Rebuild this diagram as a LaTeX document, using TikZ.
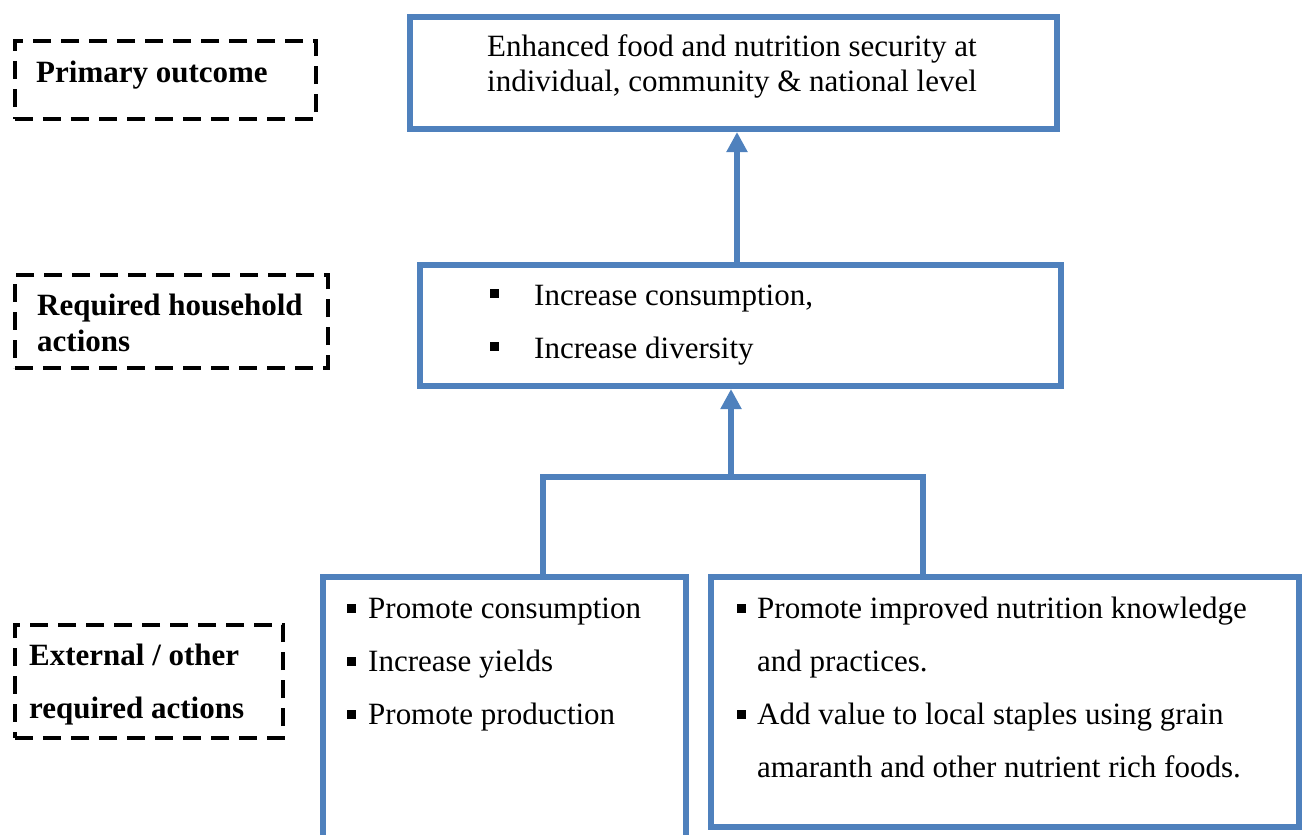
\documentclass[tikz,border=0pt]{standalone}
\usepackage{fontspec}
\setmainfont{Liberation Serif}
\usetikzlibrary{arrows.meta}
\definecolor{accblue}{RGB}{79,129,189}
\newcommand\sqbul[1][0.22em]{\rule[#1]{0.29em}{0.29em}}
\begin{document}
\begin{tikzpicture}[x=1bp,y=-1bp,
  bluebox/.style={draw=accblue, line width=6bp, rectangle, inner sep=0pt, outer sep=3bp},
  openbox/.style={rectangle, inner sep=0pt, outer sep=0pt},
  blueline/.style={draw=accblue, line width=6bp, line join=miter},
  arr/.style={blueline, -{Triangle[width=20bp,length=20bp]}},
  dbox/.style={draw=black, line width=4bp, dash pattern=on 18bp off 10bp, rectangle, inner sep=0pt},
  txt/.style={anchor=base west, inner sep=0pt, font=\fontsize{31.1}{37}\selectfont},
  lbl/.style={txt, font=\fontsize{31.1}{37}\selectfont\bfseries}
]
\useasboundingbox (0,0) rectangle (1305,834);

% dashed labels
\node[dbox, minimum width=301bp, minimum height=78bp] (d1) at (165.5,80) {};
\node[dbox, minimum width=313bp, minimum height=93bp] (d2) at (171.5,321.5) {};
\node[dbox, minimum width=268bp, minimum height=113bp] (d3) at (149,681.5) {};
\node[lbl] (t1) at (36,82) {Primary outcome};
\node[lbl] (t2a) at (37,315) {Required household};
\node[lbl] (t2b) at (37,351) {actions};
\node[lbl] (t3a) at (29,665) {External / other};
\node[lbl] (t3b) at (29,718) {required actions};

% blue boxes
\node[bluebox, minimum width=647bp, minimum height=112bp] (top) at (733.5,73) {};
\node[bluebox, minimum width=641bp, minimum height=121bp] (mid) at (740.5,325.5) {};
\node[openbox, minimum width=363bp, minimum height=270bp] (lb) at (504.5,712) {};
\draw[blueline] (lb.south west) -- (lb.north west) -- (lb.north east) -- (lb.south east);
\node[bluebox, minimum width=588bp, minimum height=250bp] (rb) at (1005,702) {};

% texts
\node[txt] (e1) at (487,56) {Enhanced food and nutrition security at};
\node[txt] (e2) at (487,91) {individual, community \& national level};
\node[txt] (m1) at (534,305) {\llap{\sqbul\hspace{35bp}}Increase consumption,};
\node[txt] (m2) at (534,358) {\llap{\sqbul\hspace{35bp}}Increase diversity};
\node[txt] (l1) at (368,618) {\llap{\sqbul[0.16em]\hspace{12.5bp}}Promote consumption};
\node[txt] (l2) at (368,671) {\llap{\sqbul[0.16em]\hspace{12.5bp}}Increase yields};
\node[txt] (l3) at (368,724) {\llap{\sqbul[0.16em]\hspace{12.5bp}}Promote production};
\node[txt] (r1) at (757,618) {\llap{\sqbul[0.16em]\hspace{11.5bp}}Promote improved nutrition knowledge};
\node[txt] (r2) at (757,671) {and practices.};
\node[txt] (r3) at (757,724) {\llap{\sqbul[0.16em]\hspace{11.5bp}}Add value to local staples using grain};
\node[txt] (r4) at (757,777) {amaranth and other nutrient rich foods.};

% connectors
\coordinate (a1) at (737,200);
\coordinate (jl) at (543,477);
\coordinate (jr) at (923,477);
\coordinate (a2) at (731,477);
\draw[arr] (mid.north -| a1) -- (top.south -| a1);
\draw[blueline] (lb.north -| jl) -- (jl) -- (jr) -- (rb.north -| jr);
\draw[arr] (a2) -- (mid.south -| a2);
\end{tikzpicture}
\end{document}
